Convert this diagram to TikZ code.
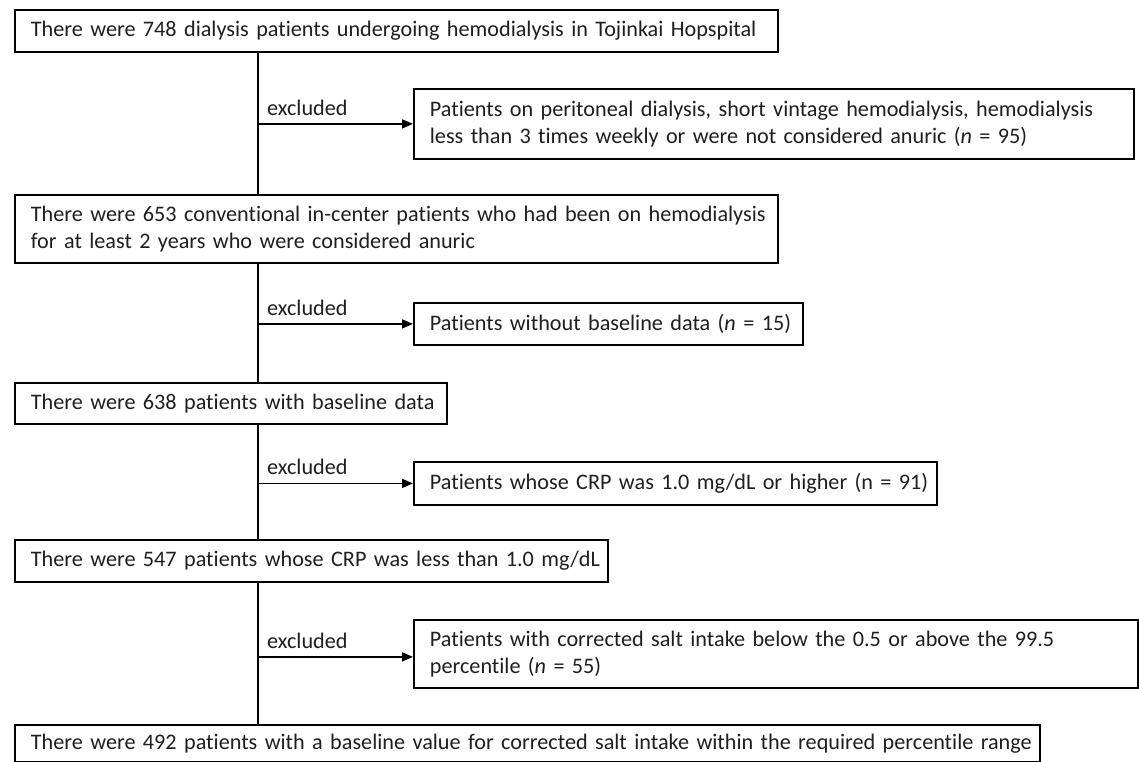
\documentclass[tikz,border=0pt]{standalone}
\usepackage{fontspec}
\setmainfont{Carlito}[Ligatures=NoCommon]
\usetikzlibrary{arrows.meta,calc}
\begin{document}
\begin{tikzpicture}[x=1pt,y=-1pt,
  box/.style={draw=black, line width=1.8pt, anchor=north west, inner xsep=16pt, inner ysep=0pt,
    align=left, font=\fontsize{22.2}{26.8}\selectfont, text=black!88},
  lbl/.style={font=\fontsize{22.2}{26}\selectfont, text=black!88, inner sep=0pt, anchor=base west},
  conn/.style={line width=1.4pt, draw=black},
  arr/.style={line width=1.5pt, draw=black, -{Triangle[length=11pt,width=9pt]}}]
\path[fill=white] (0,0) rectangle (1139,762);
\useasboundingbox (0,0) rectangle (1139,762);
\coordinate (sp) at (258,0);
% main boxes
\node[box, text width=731pt, minimum height=42pt] (b1) at (14,9)
  {\mbox{There were 748 dialysis patients undergoing hemodialysis in Tojinkai Hopspital}};
\node[box, text width=731pt, minimum height=68pt] (b2) at (14,194)
  {\mbox{There were 653 conventional in-center patients who had been on hemodialysis}\\\mbox{for at least 2 years who were considered anuric}};
\node[box, text width=400pt, minimum height=41pt] (b3) at (14,382)
  {\mbox{There were 638 patients with baseline data}};
\node[box, text width=561pt, minimum height=42pt] (b4) at (14,539)
  {\mbox{There were 547 patients whose CRP was less than 1.0 mg/dL}};
\node[box, text width=993pt, minimum height=37pt] (b5) at (14,724)
  {\mbox{There were 492 patients with a baseline value for corrected salt intake within the required percentile range}};
% excluded boxes
\node[box, text width=688pt, minimum height=70pt] (e1) at (413,88)
  {\mbox{Patients on peritoneal dialysis, short vintage hemodialysis, hemodialysis}\\\mbox{less than 3 times weekly or were not considered anuric (\textit{n} = 95)}};
\node[box, text width=357pt, minimum height=42pt] (e2) at (413,302)
  {\mbox{Patients without baseline data (\textit{n} = 15)}};
\node[box, text width=491pt, minimum height=43pt] (e3) at (413,461)
  {\mbox{Patients whose CRP was 1.0 mg/dL or higher (n = 91)}};
\node[box, text width=692pt, minimum height=68pt] (e4) at (413,619)
  {\mbox{Patients with corrected salt intake below the 0.5 or above the 99.5}\\\mbox{percentile (\textit{n} = 55)}};
% spine
\draw[conn] (b1.south -| sp) -- (b2.north -| sp);
\draw[conn] (b2.south -| sp) -- (b3.north -| sp);
\draw[conn] (b3.south -| sp) -- (b4.north -| sp);
\draw[conn] (b4.south -| sp) -- (b5.north -| sp);
% arrows
\coordinate (a1) at (e1.west -| sp);
\coordinate (a2) at (e2.west -| sp);
\coordinate (a3) at (e3.west -| sp);
\coordinate (a4) at ($(e4.west -| sp)+(0,3)$);
\draw[arr] (a1) -- (e1.west);
\draw[arr] (a2) -- (e2.west);
\draw[arr] (a3) -- (e3.west);
\draw[arr] (a4) -- (a4 -| e4.west);
% labels
\node[lbl] (l1) at ($(a1)+(9,-8.5)$) {excluded};
\node[lbl] (l2) at ($(a2)+(9,-8.5)$) {excluded};
\node[lbl] (l3) at ($(a3)+(9,-8.5)$) {excluded};
\node[lbl] (l4) at ($(a4)+(9,-8.5)$) {excluded};
\end{tikzpicture}
\end{document}
